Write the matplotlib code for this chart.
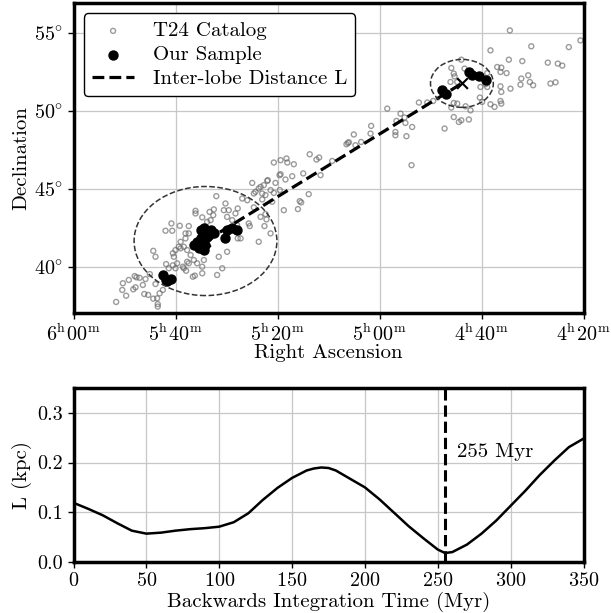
import numpy as np
import matplotlib
matplotlib.use("Agg")
import matplotlib.pyplot as plt
from matplotlib.patches import Ellipse

plt.rcParams["font.family"] = "serif"
plt.rcParams["font.serif"] = ["cmr10"]
plt.rcParams["mathtext.fontset"] = "cm"
plt.rcParams["axes.formatter.use_mathtext"] = True
plt.rcParams["font.size"] = 15

# T24 catalog positions (RA deg, Dec deg)
t24_ra = [
    87.91, 87.61, 87.58, 87.42, 87.07, 87.00, 86.96, 86.91, 86.76, 86.60,
    86.53, 86.47, 86.34, 86.26, 86.09, 85.90, 85.87, 85.87, 85.98, 85.78,
    85.62, 86.09, 85.98, 85.49, 85.20, 85.16, 85.46, 85.33, 85.13, 85.00,
    85.13, 85.00, 84.84, 84.79, 84.75, 84.59, 84.64, 84.48, 84.43, 84.51,
    84.35, 84.15, 87.29, 84.02, 84.02, 83.69, 83.33, 83.12, 83.15, 83.00,
    82.55, 82.63, 82.39, 82.47, 82.22, 81.95, 82.06, 81.73, 81.24, 81.16,
    80.92, 80.83, 80.50, 80.75, 81.41, 81.36, 80.83, 81.81, 81.95, 80.92,
    80.34, 82.47, 82.88, 82.71, 82.96, 83.61, 83.69, 83.69, 84.05, 84.10,
    84.26, 84.43, 84.51, 84.35, 84.75, 85.08, 84.92, 84.59, 84.35, 83.94,
    83.28, 83.45, 81.98, 82.55, 80.18, 79.85, 79.56, 79.52, 79.20, 78.42,
    78.09, 77.96, 77.32, 76.62, 76.55, 79.90, 79.85, 79.28, 79.61, 78.74,
    77.89, 80.48, 80.10, 80.67, 81.08, 80.34, 80.18, 79.89, 80.59, 80.75,
    81.48, 80.26, 78.47, 78.91, 78.84, 79.69, 79.00, 81.16, 80.59, 80.54,
    80.64, 74.62, 73.97, 74.17, 73.77, 73.73, 73.40, 74.22, 74.22, 73.68,
    73.07, 72.66, 72.37, 75.41, 75.44, 76.26, 76.50, 76.18, 75.90, 73.43,
    68.61, 69.56, 70.99, 71.48, 71.36, 71.52, 71.19, 69.23, 69.03, 69.07,
    68.77, 68.66, 69.72, 70.05, 69.72, 69.07, 69.03, 68.58, 70.08, 69.56,
    69.36, 69.07, 69.03, 69.97, 70.54, 70.78, 71.36, 71.19, 71.48, 70.99,
    71.36, 71.11, 70.62, 71.81, 69.80, 71.32, 70.83, 67.56, 65.72, 65.15,
    68.00, 66.75, 66.26, 66.04, 67.71, 68.05, 67.63, 67.47, 68.09, 66.62,
    66.37,
]
t24_dec = [
    37.76, 38.53, 38.96, 38.16, 38.57, 39.42, 38.70, 39.34, 39.31, 38.85,
    38.27, 39.23, 38.21, 39.55, 37.97, 37.99, 37.46, 37.62, 38.91, 38.31,
    38.53, 41.04, 40.66, 42.33, 42.80, 42.33, 40.19, 39.92, 40.11, 39.92,
    40.88, 41.09, 41.30, 42.65, 41.62, 41.30, 40.02, 39.76, 40.34, 42.16,
    42.63, 39.38, 39.17, 43.61, 43.44, 43.19, 43.54, 43.70, 43.33, 44.55,
    44.08, 43.65, 43.65, 43.22, 43.01, 43.76, 43.44, 44.40, 45.40, 44.72,
    45.04, 45.15, 45.53, 44.72, 42.80, 42.63, 43.22, 41.84, 41.84, 41.62,
    42.16, 40.98, 40.66, 39.92, 39.49, 40.45, 40.02, 39.60, 39.45, 40.45,
    40.77, 41.09, 41.84, 42.16, 41.20, 40.66, 40.24, 39.92, 40.24, 40.24,
    43.01, 42.90, 42.69, 41.73, 46.71, 46.86, 46.97, 46.71, 46.60, 47.24,
    46.90, 47.03, 46.81, 47.88, 47.97, 45.90, 45.96, 45.83, 45.62, 46.01,
    45.90, 45.58, 45.40, 45.26, 44.83, 44.94, 44.76, 44.94, 44.62, 44.34,
    44.29, 44.19, 44.68, 44.23, 44.15, 43.65, 43.72, 43.83, 43.40, 43.06,
    42.63, 50.17, 49.85, 49.38, 49.60, 49.25, 48.99, 48.67, 48.46, 48.40,
    50.56, 50.56, 50.66, 49.06, 48.57, 48.51, 48.01, 47.82, 48.03, 46.54,
    55.19, 53.91, 53.31, 52.78, 52.42, 51.88, 51.88, 52.84, 52.80, 52.52,
    52.45, 53.31, 52.45, 51.56, 51.56, 51.60, 51.24, 51.45, 50.88, 50.45,
    50.28, 50.66, 50.49, 50.60, 50.06, 50.32, 50.53, 50.49, 50.24, 49.42,
    49.63, 49.31, 49.47, 48.89, 51.74, 52.24, 52.74, 54.17, 54.12, 54.55,
    53.22, 53.12, 53.06, 52.93, 52.31, 52.10, 51.88, 51.67, 51.71, 51.78,
    51.86,
]

# our sample (RA deg, Dec deg)
sample_ra = [
    85.62, 85.49, 85.24, 85.40,
    83.77, 83.61, 83.28, 83.12, 83.45, 83.94, 84.10, 83.86, 83.61, 83.37,
    82.47, 82.22, 81.98, 82.55, 83.53, 83.77,
    71.93, 71.76, 70.62, 70.46, 70.13, 69.80,
]
sample_dec = [
    39.49, 39.17, 39.23, 39.10,
    42.37, 42.48, 42.37, 42.16, 41.94, 41.62, 41.41, 41.20, 41.09, 42.05,
    42.37, 42.48, 42.37, 41.84, 41.41, 41.86,
    51.35, 51.13, 52.52, 52.31, 52.24, 51.99,
]

# lobe centres and radii (deg)
lobe_ra = [83.53, 70.96]
lobe_dec = [41.67, 51.79]
lobe_radius = [3.5, 1.54]

# inter-lobe distance vs backwards integration time
time_myr = [0, 10, 20, 30, 40, 50, 60, 70, 80, 90, 100, 110, 120, 130, 140,
            150, 160, 165, 170, 175, 180, 190, 200, 210, 220, 230, 240, 250,
            255, 260, 270, 280, 290, 300, 310, 320, 330, 340, 350]
dist_kpc = [0.119, 0.107, 0.094, 0.078, 0.063, 0.057, 0.059, 0.063, 0.066,
            0.068, 0.071, 0.080, 0.098, 0.125, 0.149, 0.169, 0.184, 0.188,
            0.190, 0.189, 0.184, 0.167, 0.150, 0.126, 0.099, 0.072, 0.048,
            0.025, 0.018, 0.020, 0.035, 0.057, 0.083, 0.113, 0.143, 0.175,
            0.204, 0.231, 0.248]
t_min = 255

ra_ticks = [90, 85, 80, 75, 70, 65]
ra_labels = [r"$6^{\rm h}00^{\rm m}$", r"$5^{\rm h}40^{\rm m}$",
             r"$5^{\rm h}20^{\rm m}$", r"$5^{\rm h}00^{\rm m}$",
             r"$4^{\rm h}40^{\rm m}$", r"$4^{\rm h}20^{\rm m}$"]
dec_ticks = [40, 45, 50, 55]
dec_labels = [r"$40\!^\circ$", r"$45\!^\circ$", r"$50\!^\circ$",
              r"$55\!^\circ$"]

fig = plt.figure(figsize=(6.11, 6.13), dpi=100)
ax1 = fig.add_axes([0.1203, 0.4894, 0.8347, 0.5057])
ax2 = fig.add_axes([0.1203, 0.0832, 0.8347, 0.2840])

ax1.scatter(t24_ra, t24_dec, s=13, facecolors="none", edgecolors="0.4",
            linewidths=1.0, alpha=0.65, label="T24 Catalog", zorder=2)
ax1.scatter(sample_ra, sample_dec, s=42, color="black", label="Our Sample",
            zorder=3)
ax1.plot(lobe_ra, lobe_dec, "--", color="black", lw=2.3,
         label="Inter-lobe Distance L", zorder=4)
ax1.scatter(lobe_ra, lobe_dec, marker="x", s=60, color="black", lw=1.5,
            zorder=5)
for ra, dec, r in zip(lobe_ra, lobe_dec, lobe_radius):
    ax1.add_patch(Ellipse((ra, dec), 2 * r, 2 * r, fill=False, ls="--",
                          lw=1.1, edgecolor="#333333", zorder=4))

ax1.set_xlim(90, 65)
ax1.set_ylim(37.05, 56.95)
ax1.set_xticks(ra_ticks)
ax1.set_xticklabels(ra_labels, fontsize=14.5)
ax1.set_yticks(dec_ticks)
ax1.set_yticklabels(dec_labels, fontsize=14.5)
ax1.set_xlabel("Right Ascension", labelpad=-1)
ax1.set_ylabel("Declination", labelpad=3)
ax1.grid(True, color="0.78", lw=0.9, zorder=0)
ax1.set_axisbelow(True)
leg = ax1.legend(loc="upper left", framealpha=1, edgecolor="black",
                 fancybox=True, fontsize=15, labelspacing=0.25,
                 borderaxespad=0.5, handletextpad=0.9)
leg.get_frame().set_linewidth(1.0)

ax2.plot(time_myr, dist_kpc, color="black", lw=1.8, zorder=3)
ax2.axvline(t_min, color="black", ls="--", lw=2.2, zorder=4)
ax2.text(t_min + 8, 0.222, f"{t_min} Myr", ha="left", va="center",
         fontsize=15)
ax2.set_xlim(0, 350)
ax2.set_ylim(0, 0.35)
ax2.set_xticks([0, 50, 100, 150, 200, 250, 300, 350])
ax2.set_yticks([0.0, 0.1, 0.2, 0.3])
ax2.set_yticklabels(["0.0", "0.1", "0.2", "0.3"])
ax2.tick_params(labelsize=14.5)
ax2.set_xlabel("Backwards Integration Time (Myr)", labelpad=1)
ax2.set_ylabel("L (kpc)", labelpad=4)
ax2.grid(True, color="0.78", lw=0.9, zorder=0)
ax2.set_axisbelow(True)

for ax in (ax1, ax2):
    for sp in ax.spines.values():
        sp.set_linewidth(2.5)
    ax.tick_params(width=1.0, length=4)

fig.savefig("out.png", dpi=100)
